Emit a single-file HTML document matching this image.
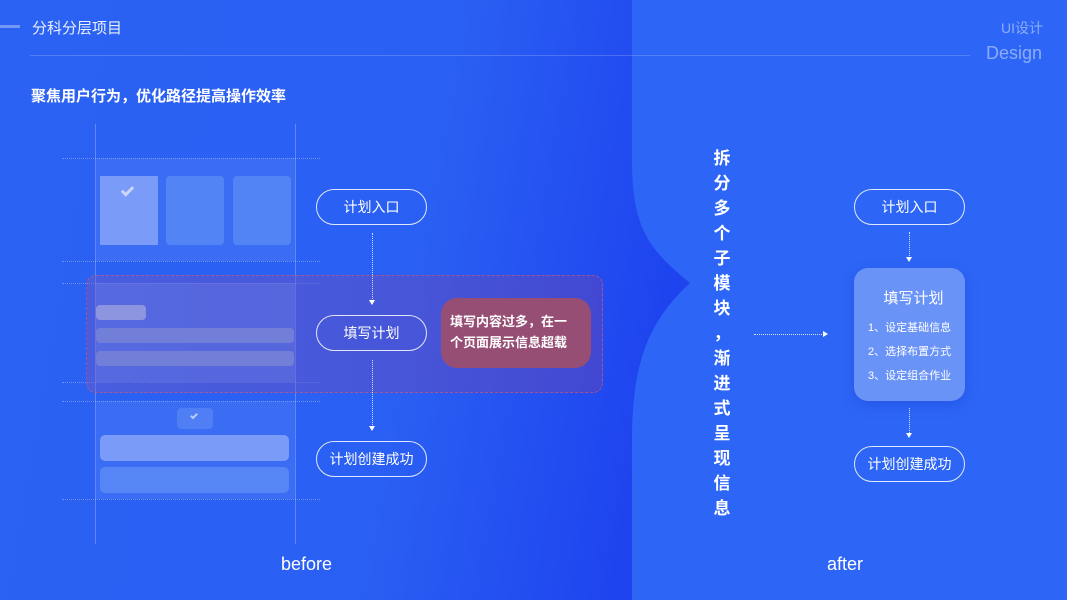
<!DOCTYPE html>
<html><head><meta charset="utf-8"><style>
*{margin:0;padding:0;box-sizing:border-box}
body{width:1067px;height:600px;overflow:hidden;position:relative;font-family:"Liberation Sans","Noto Sans CJK SC",sans-serif;color:#fff;background:linear-gradient(100deg,#2b62f3 0%,#2a5ff3 40%,#1e43ef 62%)}
.abs{position:absolute}
.pill{position:absolute;width:111px;height:36px;border:1px solid rgba(255,255,255,.85);border-radius:18px;font-size:14px;display:flex;align-items:center;justify-content:center}
.vdash{position:absolute;width:0;border-left:1px dotted rgba(255,255,255,.8)}
.arr{position:absolute;width:0;height:0;border-left:3px solid transparent;border-right:3px solid transparent;border-top:5px solid #fff}
.hl{position:absolute;left:62px;width:258px;height:0;border-top:1px dotted rgba(255,255,255,.3)}
.card{position:absolute;border-radius:4px}
.chk{position:absolute;border-right:3px solid rgba(255,255,255,.6);border-bottom:3px solid rgba(255,255,255,.6);transform:rotate(45deg)}
</style></head><body>
<svg class="abs" style="left:0;top:0" width="1067" height="600">
<path d="M632,0 L1067,0 L1067,600 L632,600 L632,440 C632,360 650,320 690,283 C650,250 632,230 632,160 Z" fill="#2d66f6"/>
</svg>
<div class="abs" style="left:0;top:25px;width:20px;height:3px;background:rgba(255,255,255,.35)"></div>
<div class="abs" style="left:32px;top:17px;font-size:15px;color:rgba(255,255,255,.9)">分科分层项目</div>
<div class="abs" style="left:30px;top:55px;width:940px;height:1px;background:rgba(255,255,255,.18)"></div>
<div class="abs" style="left:1001px;top:18px;font-size:14px;color:rgba(255,255,255,.45)">UI设计</div>
<div class="abs" style="left:986px;top:43px;font-size:18px;color:rgba(255,255,255,.45)">Design</div>
<div class="abs" style="left:31px;top:85px;font-size:15px;font-weight:bold">聚焦用户行为，优化路径提高操作效率</div>

<div class="abs" style="left:95px;top:124px;width:1px;height:420px;background:rgba(255,255,255,.25)"></div>
<div class="abs" style="left:295px;top:124px;width:1px;height:420px;background:rgba(255,255,255,.25)"></div>
<div class="hl" style="top:158px"></div><div class="hl" style="top:261px"></div>
<div class="hl" style="top:283px"></div><div class="hl" style="top:382px"></div>
<div class="hl" style="top:401px"></div><div class="hl" style="top:499px"></div>
<div class="abs" style="left:96px;top:158px;width:199px;height:103px;background:rgba(255,255,255,.08)"></div>
<div class="card" style="left:100px;top:176px;width:58px;height:69px;background:#7b9bf8;border-radius:1px"></div>
<div class="chk" style="left:124px;top:184px;width:7px;height:12px"></div>
<div class="card" style="left:166px;top:176px;width:58px;height:69px;background:#5284f5"></div>
<div class="card" style="left:233px;top:176px;width:58px;height:69px;background:#5284f5"></div>
<div class="abs" style="left:86px;top:275px;width:517px;height:118px;border:1px dashed rgba(220,90,110,.6);border-radius:10px;background:linear-gradient(90deg,rgba(110,90,200,.45),rgba(100,70,180,.5))"></div>
<div class="abs" style="left:96px;top:283px;width:199px;height:99px;background:rgba(255,255,255,.08)"></div>
<div class="card" style="left:96px;top:305px;width:50px;height:15px;background:#8d95e0"></div>
<div class="card" style="left:96px;top:328px;width:198px;height:15px;background:#727fd9"></div>
<div class="card" style="left:96px;top:351px;width:198px;height:15px;background:#727fd9"></div>
<div class="abs" style="left:96px;top:401px;width:199px;height:98px;background:rgba(255,255,255,.08)"></div>
<div class="card" style="left:177px;top:408px;width:36px;height:21px;background:#4f7ef5"></div>
<div class="chk" style="left:192px;top:412px;width:4px;height:7px;border-width:2px"></div>
<div class="card" style="left:100px;top:435px;width:189px;height:26px;background:#7a9cf8;border-radius:5px"></div>
<div class="card" style="left:100px;top:467px;width:189px;height:26px;background:#5686f6;border-radius:5px"></div>

<div class="pill" style="left:316px;top:189px">计划入口</div>
<div class="vdash" style="left:372px;top:233px;height:68px"></div><div class="arr" style="left:369px;top:300px"></div>
<div class="pill" style="left:316px;top:315px">填写计划</div>
<div class="vdash" style="left:372px;top:360px;height:67px"></div><div class="arr" style="left:369px;top:426px"></div>
<div class="pill" style="left:316px;top:441px">计划创建成功</div>
<div class="abs" style="left:441px;top:298px;width:150px;height:70px;border-radius:16px;background:#974e74;font-size:13px;font-weight:bold;line-height:21px;padding:13px 0 0 9px">填写内容过多，在一<br>个页面展示信息超载</div>
<div class="abs" style="left:281px;top:554px;font-size:18px">before</div>

<div class="abs" style="left:711px;top:146px;width:22px;font-size:17px;font-weight:bold;line-height:25px;text-align:center">拆<br>分<br>多<br>个<br>子<br>模<br>块<br>，<br>渐<br>进<br>式<br>呈<br>现<br>信<br>息</div>
<div class="abs" style="left:754px;top:334px;width:70px;border-top:1px dotted rgba(255,255,255,.8)"></div>
<div class="abs" style="left:823px;top:331px;width:0;height:0;border-top:3px solid transparent;border-bottom:3px solid transparent;border-left:5px solid #fff"></div>

<div class="pill" style="left:854px;top:189px">计划入口</div>
<div class="vdash" style="left:909px;top:232px;height:26px"></div><div class="arr" style="left:906px;top:257px"></div>
<div class="abs" style="left:854px;top:268px;width:111px;height:133px;border-radius:14px;background:#6a93f8;box-shadow:0 4px 14px rgba(20,50,200,.3)">
<div style="text-align:center;font-size:15px;margin-top:19px;padding-left:8px">填写计划</div>
<div style="font-size:11px;line-height:24px;margin-top:8px;padding-left:14px;color:#fff">1、设定基础信息<br>2、选择布置方式<br>3、设定组合作业</div></div>
<div class="vdash" style="left:909px;top:408px;height:25px"></div><div class="arr" style="left:906px;top:433px"></div>
<div class="pill" style="left:854px;top:446px">计划创建成功</div>
<div class="abs" style="left:827px;top:554px;font-size:18px">after</div>
</body></html>
